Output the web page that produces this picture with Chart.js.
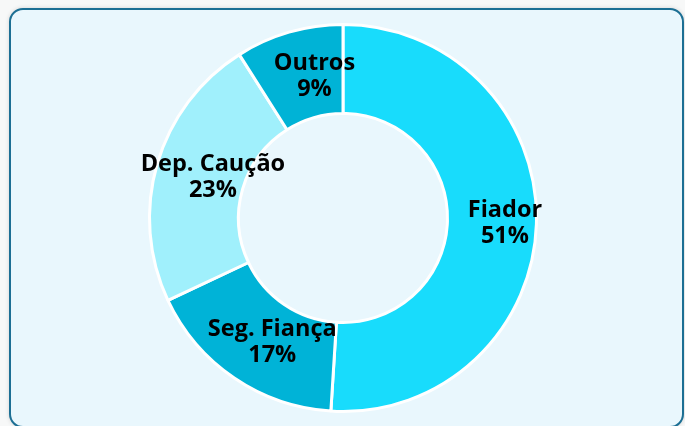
<!DOCTYPE html>
<html>
<head>
<meta charset="utf-8">
<script src="https://cdn.jsdelivr.net/npm/chart.js@4"></script>
<style>
  html, body { margin: 0; padding: 0; background: #f7f8f8; }
  body { width: 685px; height: 426px; position: relative; overflow: hidden; }
  .box {
    position: absolute; left: 9px; top: 8px; width: 671px; height: 416px;
    background: #e9f7fd; border: 2px solid #1c6f94; border-radius: 14px;
    box-shadow: 0 0 4px rgba(0,0,0,0.15);
  }
  #wrap { position: absolute; left: 0; top: 0; width: 685px; height: 426px; }
</style>
</head>
<body>
<div class="box"></div>
<div id="wrap"><canvas id="donutChart"></canvas></div>
<script>
// dados do gráfico
const categorias = ['Fiador', 'Seg. Fiança', 'Dep. Caução', 'Outros'];
const valores = [51, 17, 23, 9];
const cores = ['#18dcfc', '#00b3d7', '#a0f0fc', '#00b3d6'];

// rótulos dentro das fatias: nome + percentual
const rotulosPlugin = {
  id: 'rotulos',
  afterDatasetsDraw(chart) {
    const ctx = chart.ctx;
    const meta = chart.getDatasetMeta(0);
    const total = valores.reduce((a, b) => a + b, 0);
    ctx.save();
    ctx.fillStyle = '#000';
    ctx.font = 'bold 23.5px "Open Sans"';
    ctx.textAlign = 'center';
    ctx.textBaseline = 'middle';
    meta.data.forEach((arc, i) => {
      const p = arc.tooltipPosition();
      const x = p.x + 13;
      const pct = Math.round(valores[i] / total * 100) + '%';
      ctx.fillText(categorias[i], x, p.y - 12);
      ctx.fillText(pct, x, p.y + 14);
    });
    ctx.restore();
  }
};

window.addEventListener('DOMContentLoaded', () => {
  new Chart(document.getElementById('donutChart'), {
    type: 'doughnut',
    data: {
      labels: categorias,
      datasets: [{
        data: valores,
        backgroundColor: cores,
        borderColor: '#ffffff',
        borderWidth: 3
      }]
    },
    options: {
      responsive: true,
      maintainAspectRatio: false,
      animation: false,
      cutout: '54%',
      layout: {
        padding: { left: 148, right: 147, top: 23, bottom: 13 }
      },
      plugins: {
        legend: { display: false },
        tooltip: { enabled: false }
      }
    },
    plugins: [rotulosPlugin]
  });
});
</script>
</body>
</html>
